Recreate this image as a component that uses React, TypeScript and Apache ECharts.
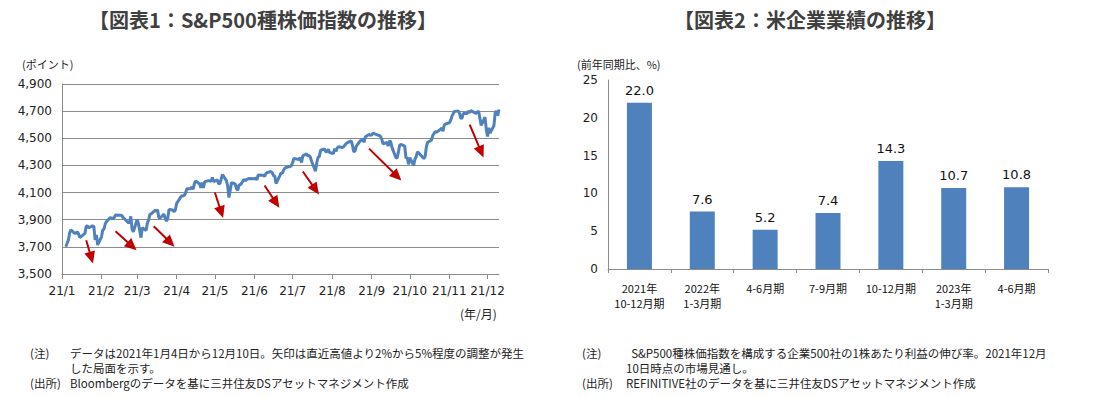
import React, { useEffect, useRef } from "react";
import * as echarts from "echarts";

// ---- Chart 1: S&P500 daily close, 2021 (day, close) per month ----
const jan2021: [number, number][] = [[4,3701],[5,3727],[6,3748],[7,3804],[8,3825],[11,3800],[12,3801],[13,3810],[14,3796],[15,3768],[19,3799],[20,3852],[21,3853],[22,3841],[25,3855],[26,3850],[27,3751],[28,3787],[29,3714]];
const feb2021: [number, number][] = [[1,3774],[2,3826],[3,3830],[4,3872],[5,3887],[8,3916],[9,3911],[10,3910],[11,3916],[12,3935],[16,3933],[17,3931],[18,3914],[19,3907],[22,3877],[23,3881],[24,3925],[25,3829],[26,3811]];
const mar2021: [number, number][] = [[1,3902],[2,3870],[3,3820],[4,3768],[5,3842],[8,3821],[9,3875],[10,3899],[11,3939],[12,3943],[15,3969],[16,3963],[17,3974],[18,3915],[19,3913],[22,3941],[23,3911],[24,3889],[25,3910],[26,3975],[29,3971],[30,3959],[31,3973]];
const apr2021: [number, number][] = [[1,4020],[5,4078],[6,4074],[7,4080],[8,4097],[9,4129],[12,4128],[13,4142],[14,4125],[15,4170],[16,4185],[19,4163],[20,4135],[21,4173],[22,4135],[23,4180],[26,4188],[27,4187],[28,4183],[29,4211],[30,4181]];
const may2021: [number, number][] = [[3,4193],[4,4165],[5,4168],[6,4202],[7,4233],[10,4188],[11,4152],[12,4063],[13,4113],[14,4174],[17,4163],[18,4128],[19,4116],[20,4159],[21,4156],[24,4197],[25,4188],[26,4196],[27,4201],[28,4204]];
const jun2021: [number, number][] = [[1,4202],[2,4208],[3,4193],[4,4230],[7,4227],[8,4227],[9,4220],[10,4239],[11,4247],[14,4255],[15,4247],[16,4224],[17,4222],[18,4166],[21,4225],[22,4246],[23,4242],[24,4266],[25,4281],[28,4291],[29,4292],[30,4298]];
const jul2021: [number, number][] = [[1,4320],[2,4352],[6,4344],[7,4358],[8,4321],[9,4370],[12,4385],[13,4369],[14,4374],[15,4360],[16,4327],[19,4258],[20,4323],[21,4359],[22,4367],[23,4412],[26,4422],[27,4401],[28,4401],[29,4419],[30,4395]];
const aug2021: [number, number][] = [[2,4387],[3,4423],[4,4403],[5,4429],[6,4437],[9,4432],[10,4437],[11,4448],[12,4461],[13,4468],[16,4480],[17,4448],[18,4400],[19,4406],[20,4442],[23,4480],[24,4486],[25,4496],[26,4470],[27,4509],[30,4529],[31,4523]];
const sep2021: [number, number][] = [[1,4524],[2,4537],[3,4535],[7,4520],[8,4514],[9,4493],[10,4459],[13,4469],[14,4443],[15,4481],[16,4474],[17,4433],[20,4358],[21,4354],[22,4396],[23,4449],[24,4455],[27,4443],[28,4353],[29,4359],[30,4308]];
const oct2021: [number, number][] = [[1,4357],[4,4300],[5,4346],[6,4364],[7,4400],[8,4391],[11,4361],[12,4351],[13,4364],[14,4438],[15,4471],[18,4486],[19,4520],[20,4536],[21,4550],[22,4545],[25,4566],[26,4575],[27,4552],[28,4596],[29,4605]];
const nov2021: [number, number][] = [[1,4614],[2,4631],[3,4661],[4,4680],[5,4698],[8,4702],[9,4685],[10,4647],[11,4649],[12,4683],[15,4683],[16,4701],[17,4689],[18,4705],[19,4698],[22,4683],[23,4691],[24,4701],[26,4595],[29,4655],[30,4567]];
const dec2021: [number, number][] = [[1,4513],[2,4577],[3,4538],[6,4592],[7,4687],[8,4701],[9,4667],[10,4712]];
const spxMonths = [jan2021, feb2021, mar2021, apr2021, may2021, jun2021, jul2021, aug2021, sep2021, oct2021, nov2021, dec2021];

// arrows: [month(1-12), day, value]
const arrowTails: [number, number, number][] = [[1,20,3749],[2,12,3815],[3,14,3852],[5,1,4101],[6,9,4152],[7,9,4255],[8,30,4424],[11,17,4600]];
const arrowHeads: [number, number, number][] = [[1,24,3620],[2,25,3705],[3,27,3732],[5,6,3955],[6,18,4025],[7,19,4122],[9,21,4220],[11,26,4400]];

const spxYTicks = { min: 3500, max: 4900, interval: 200 };

// ---- Chart 2: EPS growth ----
const epsCategories = ["2021年\n10-12月期", "2022年\n1-3月期", "4-6月期", "7-9月期", "10-12月期", "2023年\n1-3月期", "4-6月期"];
const epsValues = [22.0, 7.6, 5.2, 7.4, 14.3, 10.7, 10.8];

const GRAY = "#8c8c8c";
const NUM_FONT = "DejaVu Sans";
const JP_FONT = "'Noto Sans CJK JP', sans-serif";

function ts(m: number, d: number) {
  return new Date(2021, m - 1, d).getTime();
}

export default function App() {
  const ref = useRef<HTMLDivElement>(null);
  useEffect(() => {
    if (!ref.current) return;
    const chart = echarts.init(ref.current, undefined, { renderer: "svg" });
    const spxData: [number, number][] = [];
    spxMonths.forEach((arr, mi) => arr.forEach(([d, v]) => spxData.push([ts(mi + 1, d), v])));
    const arrowData = arrowTails.map((t, i) => [
      { coord: [ts(t[0], t[1]), t[2]] },
      { coord: [ts(arrowHeads[i][0], arrowHeads[i][1]), arrowHeads[i][2]] },
    ]);

    const txt = (text: string, x: number, y: number, size: number, extra: any = {}) => ({
      type: "text",
      x,
      y,
      silent: true,
      style: {
        text,
        fontSize: size,
        fontFamily: JP_FONT,
        fill: "#222",
        verticalAlign: "top",
        align: "left",
        lineHeight: 15,
        ...extra,
      },
    });

    chart.setOption({
      animation: false,
      backgroundColor: "#fff",
      grid: [
        { left: 62, top: 84, width: 437, height: 190 },
        { left: 608, top: 80, width: 440, height: 189 },
      ],
      xAxis: [
        {
          type: "time",
          gridIndex: 0,
          min: ts(1, 1),
          max: ts(12, 10),
          splitNumber: 12,
          axisLine: { show: true, lineStyle: { color: GRAY } },
          axisTick: { show: true, length: 5, lineStyle: { color: GRAY } },
          splitLine: { show: false },
          axisLabel: {
            showMinLabel: true,
            margin: 11,
            fontSize: 12,
            fontFamily: NUM_FONT,
            color: "#222",
            formatter: (v: number) => `21/${new Date(v).getMonth() + 1}`,
          },
        },
        {
          type: "category",
          gridIndex: 1,
          data: epsCategories,
          axisLine: { show: true, lineStyle: { color: GRAY } },
          axisTick: { show: true, length: 4, lineStyle: { color: GRAY } },
          axisLabel: {
            interval: 0,
            margin: 11,
            fontSize: 11,
            lineHeight: 15,
            fontFamily: JP_FONT,
            color: "#111",
          },
        },
      ],
      yAxis: [
        {
          type: "value",
          gridIndex: 0,
          min: spxYTicks.min,
          max: spxYTicks.max,
          interval: spxYTicks.interval,
          axisLine: { show: true, lineStyle: { color: GRAY } },
          axisTick: { show: false },
          splitLine: { show: true, lineStyle: { color: GRAY, width: 1 } },
          axisLabel: {
            margin: 10,
            fontSize: 12,
            fontFamily: NUM_FONT,
            color: "#222",
            formatter: (v: number) => v.toLocaleString("en-US"),
          },
        },
        {
          type: "value",
          gridIndex: 1,
          min: 0,
          max: 25,
          interval: 5,
          axisLine: { show: true, lineStyle: { color: GRAY } },
          axisTick: { show: false },
          splitLine: { show: false },
          axisLabel: { margin: 10, fontSize: 12, fontFamily: NUM_FONT, color: "#222" },
        },
      ],
      series: [
        {
          type: "line",
          xAxisIndex: 0,
          yAxisIndex: 0,
          data: spxData,
          showSymbol: false,
          symbol: "none",
          lineStyle: { color: "#4f81bd", width: 3 },
          markLine: {
            silent: true,
            symbol: ["none", "triangle"],
            symbolSize: [11, 12],
            label: { show: false },
            lineStyle: { color: "#c00000", width: 2, type: "solid" },
            emphasis: { disabled: true },
            data: arrowData,
          },
        },
        {
          type: "bar",
          xAxisIndex: 1,
          yAxisIndex: 1,
          data: epsValues,
          barWidth: 25,
          itemStyle: { color: "#4f81bd" },
          label: {
            show: true,
            position: "top",
            distance: 6,
            fontSize: 13,
            fontFamily: NUM_FONT,
            color: "#111",
            formatter: (p: any) => Number(p.value).toFixed(1),
          },
        },
      ],
      graphic: [
        txt("【図表1：S&P500種株価指数の推移】", 263, 7, 20, { align: "center", fontWeight: "bold", fill: "#404040", lineHeight: 24 }),
        txt("【図表2：米企業業績の推移】", 810, 7, 20, { align: "center", fontWeight: "bold", fill: "#404040", lineHeight: 24 }),
        txt("(ポイント)", 22, 56, 11),
        txt("(年/月)", 460, 306, 12),
        txt("(前年同期比、%)", 577, 56, 11),
        txt("(注)", 30, 345, 11.5),
        txt("データは2021年1月4日から12月10日。矢印は直近高値より2%から5%程度の調整が発生\nした局面を示す。", 70, 345, 11.5),
        txt("(出所)", 30, 375, 11.5),
        txt("Bloombergのデータを基に三井住友DSアセットマネジメント作成", 70, 375, 11.5),
        txt("(注)", 582, 345, 11.5),
        txt("  S&P500種株価指数を構成する企業500社の1株あたり利益の伸び率。2021年12月\n10日時点の市場見通し。", 626, 345, 11.5),
        txt("(出所)", 582, 375, 11.5),
        txt("REFINITIVE社のデータを基に三井住友DSアセットマネジメント作成", 626, 375, 11.5),
      ],
    });
    return () => chart.dispose();
  }, []);
  return <div ref={ref} style={{ position: "absolute", left: 0, top: 0, width: 1099, height: 397 }} />;
}
